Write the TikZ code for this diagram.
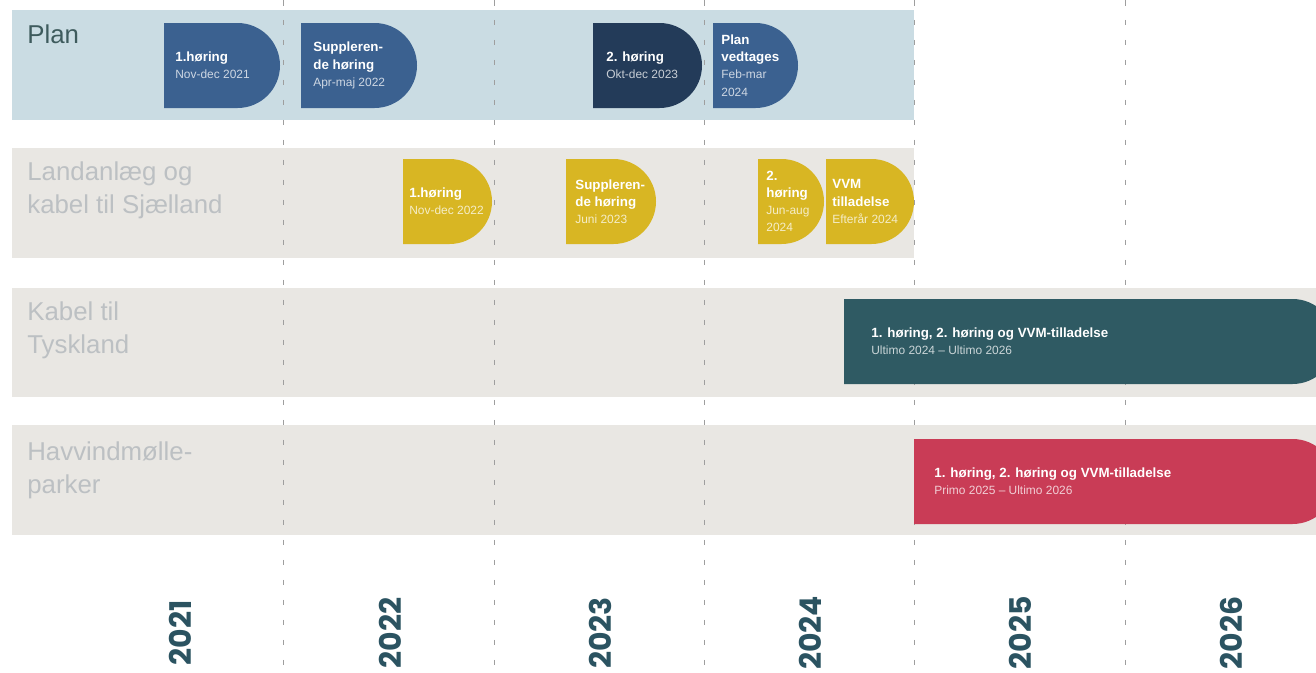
\documentclass[tikz,border=0pt]{standalone}
\usepackage{fontspec}
\setmainfont{Liberation Sans}
\newfontfamily\yearfont{Poppins}
\usepackage{xcolor}

\definecolor{planband}{HTML}{CADCE3}
\definecolor{greyband}{HTML}{E9E7E3}
\definecolor{planblue}{HTML}{3B6190}
\definecolor{plannavy}{HTML}{233B59}
\definecolor{landyellow}{HTML}{D8B623}
\definecolor{kabelteal}{HTML}{2F5A63}
\definecolor{havred}{HTML}{C93C56}
\definecolor{labeldark}{HTML}{3E5B5D}
\definecolor{labelgrey}{HTML}{BCC0C3}
\definecolor{yeartext}{HTML}{2B5361}

\tikzstyle{rowlabel} = [anchor=north west, align=left, inner sep=0pt, font=\fontsize{14.7}{19}\selectfont]
\tikzstyle{phase} = [anchor=west, align=left, inner sep=0pt, text=white, font=\fontsize{7.6}{9.8}\selectfont\bfseries]
\tikzstyle{year} = [rotate=90, inner sep=0pt, text=yeartext, font=\yearfont\fontsize{17}{17}\selectfont\bfseries]
\tikzstyle{gridline} = [draw=black!38, line width=0.5pt, dash pattern=on 0.11cm off 0.29cm]

% half-round box: left, top, width, height, colour
\newcommand{\dshape}[5]{\fill[#5] (#1,#2) -- ({#1+#3-#4/2},#2) arc[start angle=-90, end angle=90, radius={#4/2}] -- (#1,{#2+#4}) -- cycle;}
% date line inside a box
\newcommand{\when}[2]{{\color{white!75!#1}\fontsize{6.8}{9.8}\selectfont\mdseries #2}}

\begin{document}
\begin{tikzpicture}[x=0.02cm, y=-0.02cm]
    \useasboundingbox (0,0) rectangle (1316,673);
    \clip (0,0) rectangle (1316,673);

    % bands
    \fill[planband] (12,10) rectangle (914,120);
    \fill[greyband] (12,148) rectangle (914,258);
    \fill[greyband] (12,288) rectangle (1316,397);
    \fill[greyband] (12,425) rectangle (1316,535);

    % year grid
    \foreach \x in {283,494,704,914,1125}
        \draw[gridline] (\x,0) -- (\x,667);

    % row labels
    \node (plan) [rowlabel, text=labeldark] at (27,24) {Plan};
    \node (land) [rowlabel, text=labelgrey] at (27,161) {Landanlæg og\\kabel til Sjælland};
    \node (kabel) [rowlabel, text=labelgrey] at (27,301) {Kabel til\\Tyskland};
    \node (hav) [rowlabel, text=labelgrey] at (27,441) {Havvindmølle-\\parker};

    % plan
    \dshape{164}{23}{116}{85}{planblue}
    \dshape{301}{23}{116}{85}{planblue}
    \dshape{593}{23}{109}{85}{plannavy}
    \dshape{713}{23}{85}{85}{planblue}
    \node (planA) [phase] at (175,65.5) {1.høring\\\when{planblue}{Nov-dec 2021}};
    \node (planB) [phase] at (313,65.5) {Suppleren-\\de høring\\\when{planblue}{Apr-maj 2022}};
    \node (planC) [phase] at (606,65.5) {2. høring\\\when{plannavy}{Okt-dec 2023}};
    \node (planD) [phase] at (721,65.5) {Plan\\vedtages\\\when{planblue}{Feb-mar}\\\when{planblue}{2024}};

    % landanlaeg
    \dshape{403}{159}{89}{85}{landyellow}
    \dshape{566}{159}{90}{85}{landyellow}
    \dshape{758}{159}{66}{85}{landyellow}
    \dshape{826}{159}{88}{85}{landyellow}
    \node (landA) [phase] at (409,201.5) {1.høring\\\when{landyellow}{Nov-dec 2022}};
    \node (landB) [phase] at (575,201.5) {Suppleren-\\de høring\\\when{landyellow}{Juni 2023}};
    \node (landC) [phase] at (766,201.5) {2.\\høring\\\when{landyellow}{Jun-aug}\\\when{landyellow}{2024}};
    \node (landD) [phase] at (832,201.5) {VVM\\tilladelse\\\when{landyellow}{Efterår 2024}};

    % kabel og havvind
    \dshape{844}{299}{491}{85}{kabelteal}
    \dshape{914}{439}{421}{85}{havred}
    \node (kabelA) [phase] at (871,341.5) {1. høring, 2. høring og VVM-tilladelse\\\when{kabelteal}{Ultimo 2024 – Ultimo 2026}};
    \node (havA) [phase] at (934,481.5) {1. høring, 2. høring og VVM-tilladelse\\\when{havred}{Primo 2025 – Ultimo 2026}};

    % years
    \node (y2021) [year] at (180,633) {2021};
    \node (y2022) [year] at (390,633) {2022};
    \node (y2023) [year] at (600,633) {2023};
    \node (y2024) [year] at (810,633) {2024};
    \node (y2025) [year] at (1020,633) {2025};
    \node (y2026) [year] at (1231,633) {2026};
\end{tikzpicture}
\end{document}
